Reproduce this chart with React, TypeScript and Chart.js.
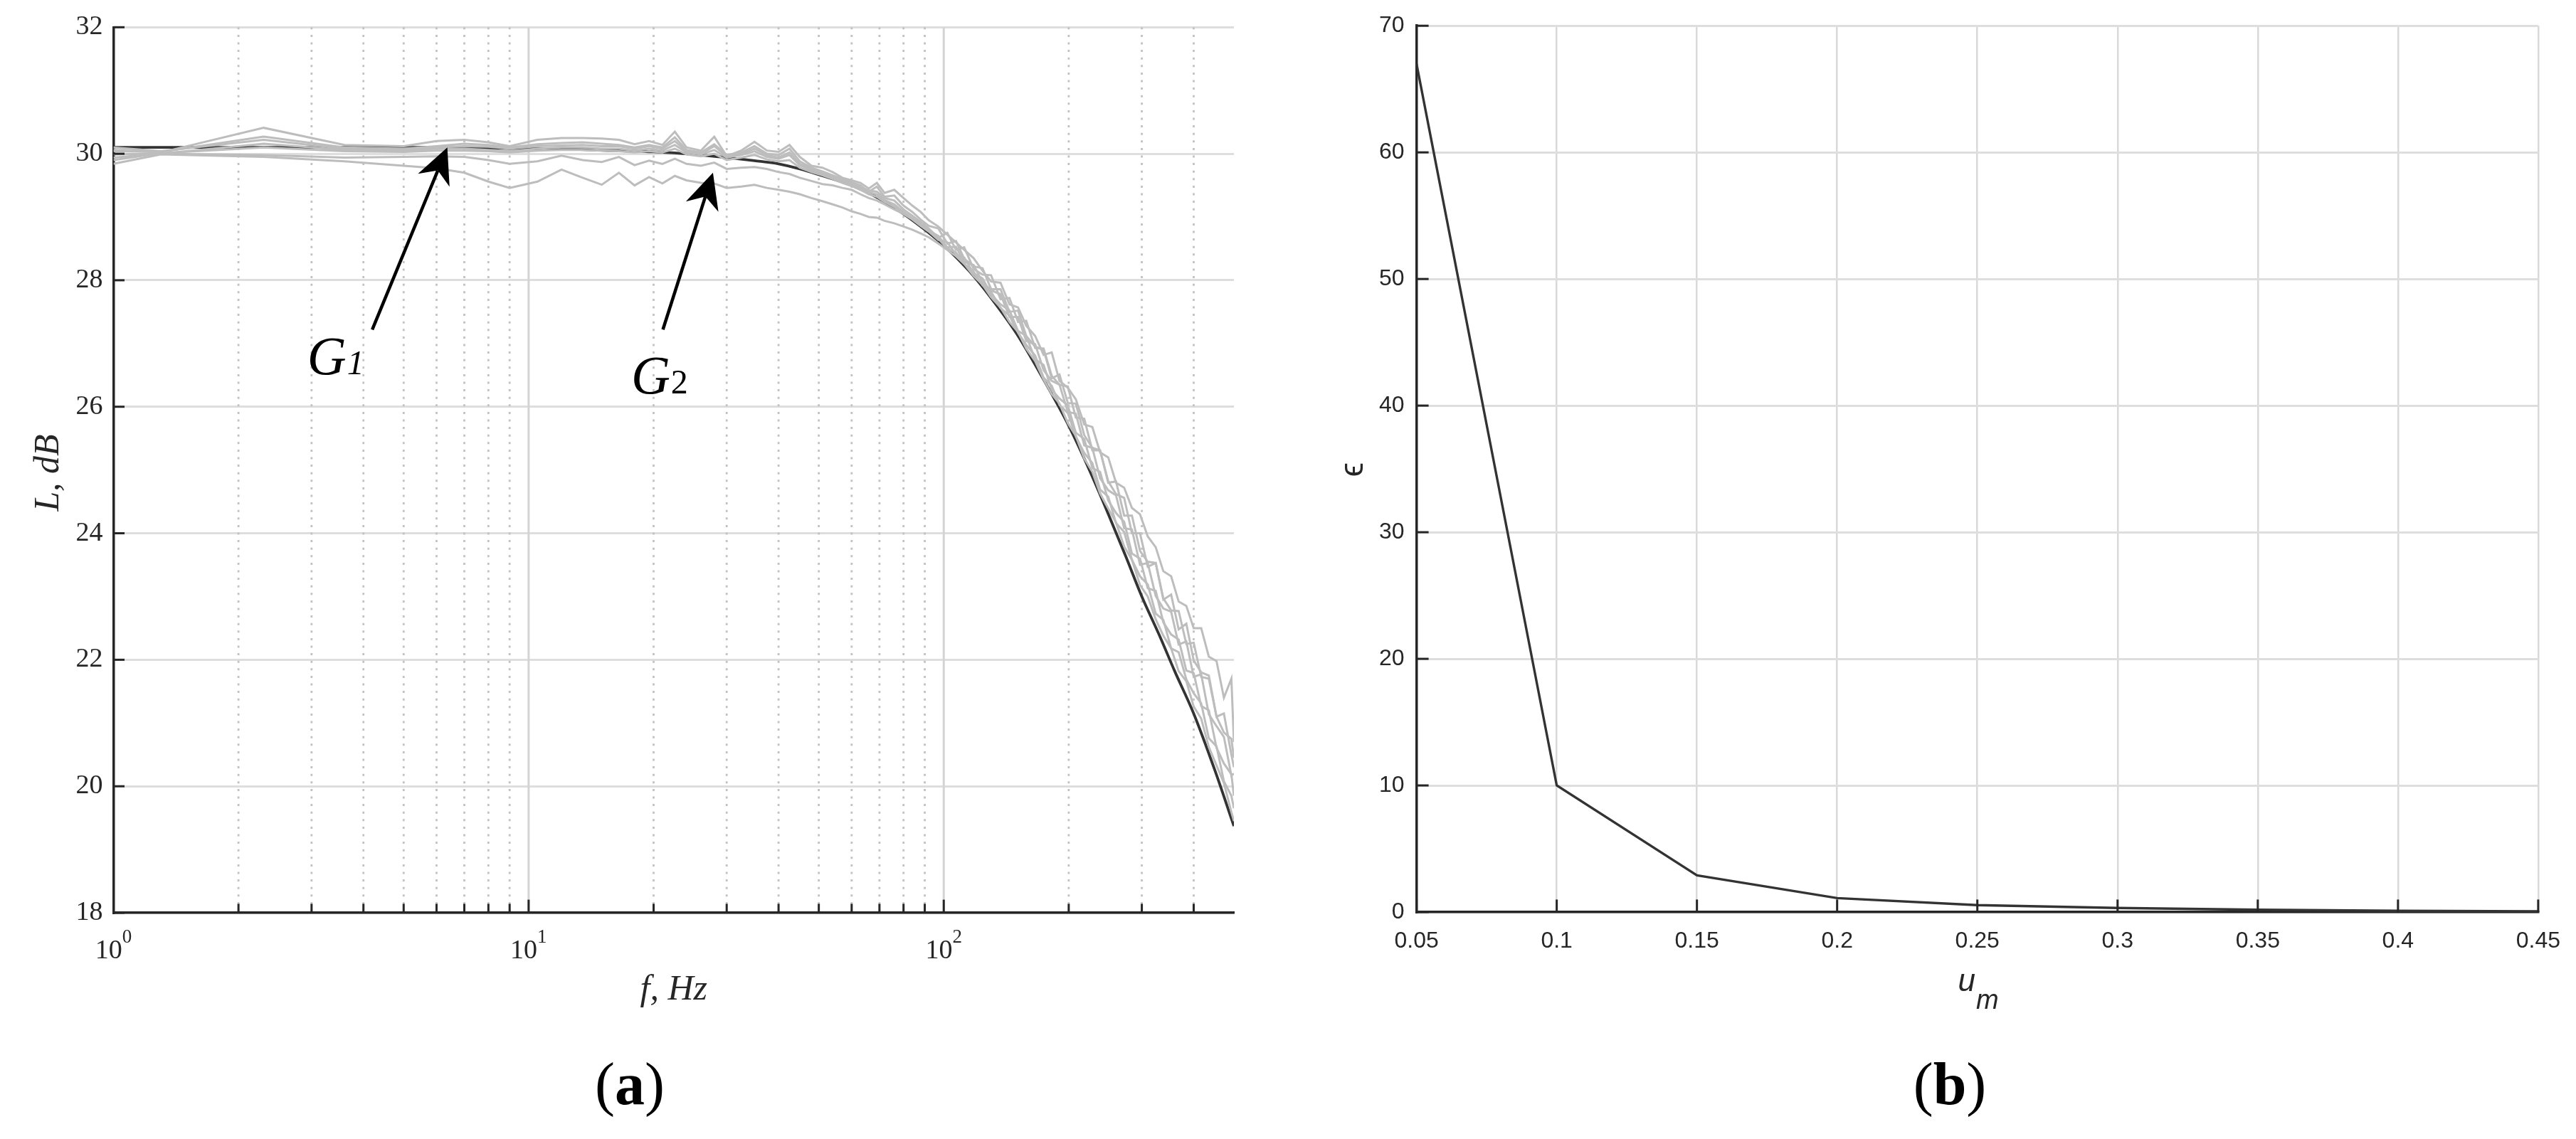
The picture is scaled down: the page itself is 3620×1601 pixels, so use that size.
import React, { useEffect, useRef } from 'react';
import { Chart, registerables } from 'chart.js';

Chart.register(...registerables);

// ---------------- Panel (a) data ----------------
const freqHz = [1, 1.3, 2.3, 3.6, 5, 6, 7, 8, 9, 10.5, 12, 13.5, 15, 16.5, 18, 19.5, 21, 22.5, 24, 26, 28, 30, 32.5, 35, 37.5, 40, 42.5, 45, 48, 51, 54, 57, 60, 63, 66, 69, 72, 76, 80, 84, 88, 92, 97, 102, 107, 112, 118, 124, 130, 137, 144, 151, 158, 166, 174, 182, 190, 199, 208, 218, 228, 238, 249, 260, 272, 284, 297, 310, 324, 338, 353, 368, 384, 400, 417, 435, 454, 473, 493, 500];

const measured1 = [30.06, 30.02, 30.41, 30.14, 30.12, 30.20, 30.22, 30.18, 30.12, 30.22, 30.25, 30.25, 30.24, 30.22, 30.15, 30.20, 30.14, 30.35, 30.10, 30.05, 30.27, 29.96, 30.05, 30.19, 30.05, 30.03, 30.14, 29.95, 29.81, 29.78, 29.71, 29.62, 29.58, 29.54, 29.45, 29.54, 29.38, 29.43, 29.30, 29.18, 29.08, 28.95, 28.85, 28.72, 28.60, 28.48, 28.35, 28.15, 27.98, 27.96, 27.62, 27.57, 27.28, 27.12, 26.82, 26.86, 26.41, 26.30, 26.12, 25.72, 25.68, 25.28, 25.20, 24.80, 24.72, 24.40, 24.30, 23.95, 23.78, 23.40, 23.32, 22.92, 22.85, 22.50, 22.50, 22.05, 21.98, 21.40, 21.70, 20.70];
const measured2 = [30.04, 30.03, 30.27, 30.10, 30.08, 30.12, 30.16, 30.14, 30.10, 30.15, 30.17, 30.18, 30.16, 30.14, 30.10, 30.14, 30.10, 30.26, 30.06, 30.02, 30.15, 29.98, 30.02, 30.12, 30.00, 29.98, 30.08, 29.88, 29.78, 29.72, 29.66, 29.60, 29.55, 29.50, 29.40, 29.48, 29.32, 29.34, 29.18, 29.08, 28.96, 28.86, 28.82, 28.58, 28.62, 28.34, 28.22, 28.19, 27.86, 27.86, 27.50, 27.52, 27.12, 26.95, 26.90, 26.45, 26.51, 26.06, 26.05, 25.55, 25.35, 25.31, 24.80, 24.82, 24.28, 24.28, 23.72, 23.55, 23.53, 22.95, 23.03, 22.48, 22.57, 21.99, 21.80, 21.75, 21.10, 21.15, 20.50, 20.30];
const measured3 = [30.10, 30.04, 30.22, 30.08, 30.06, 30.10, 30.12, 30.11, 30.08, 30.12, 30.13, 30.14, 30.12, 30.12, 30.08, 30.12, 30.08, 30.20, 30.04, 30.00, 30.12, 29.96, 30.00, 30.08, 29.98, 29.94, 30.02, 29.84, 29.76, 29.70, 29.64, 29.58, 29.52, 29.47, 29.42, 29.40, 29.30, 29.26, 29.12, 29.02, 28.92, 28.82, 28.67, 28.75, 28.48, 28.52, 28.18, 28.09, 28.08, 27.70, 27.72, 27.34, 27.36, 26.93, 26.92, 26.49, 26.35, 26.32, 25.83, 25.81, 25.31, 25.31, 24.82, 24.62, 24.56, 24.00, 24.00, 23.47, 23.53, 22.97, 22.78, 22.77, 22.25, 22.27, 21.73, 21.70, 21.10, 20.85, 20.75, 20.45];
const measured4 = [29.94, 30.00, 30.16, 30.06, 30.05, 30.08, 30.08, 30.06, 30.04, 30.08, 30.10, 30.10, 30.08, 30.08, 30.05, 30.08, 30.05, 30.14, 30.02, 29.99, 30.06, 29.94, 29.98, 30.04, 29.95, 29.92, 29.98, 29.82, 29.74, 29.69, 29.63, 29.57, 29.52, 29.46, 29.39, 29.36, 29.27, 29.20, 29.08, 28.98, 28.88, 28.79, 28.70, 28.52, 28.53, 28.29, 28.24, 27.97, 27.84, 27.78, 27.42, 27.42, 27.04, 26.99, 26.58, 26.41, 26.35, 25.92, 25.89, 25.39, 25.35, 24.87, 24.68, 24.60, 24.08, 24.06, 23.50, 23.53, 23.01, 22.81, 22.76, 22.24, 22.29, 21.73, 21.77, 21.14, 20.95, 20.78, 20.17, 20.20];
const measured5 = [29.90, 30.01, 30.10, 30.04, 30.03, 30.05, 30.05, 30.04, 30.02, 30.05, 30.06, 30.06, 30.05, 30.04, 30.02, 30.04, 30.02, 30.08, 29.99, 29.96, 30.00, 29.90, 29.94, 29.98, 29.91, 29.88, 29.90, 29.78, 29.71, 29.66, 29.60, 29.54, 29.49, 29.43, 29.36, 29.32, 29.24, 29.16, 29.05, 28.96, 28.86, 28.77, 28.64, 28.60, 28.41, 28.36, 28.11, 28.03, 27.78, 27.62, 27.52, 27.20, 27.12, 26.75, 26.66, 26.27, 26.13, 26.02, 25.59, 25.49, 25.03, 24.97, 24.52, 24.32, 24.18, 23.68, 23.60, 23.13, 23.09, 22.59, 22.40, 22.32, 21.83, 21.79, 21.27, 21.20, 20.61, 20.36, 20.19, 19.85];
const measured6 = [29.99, 30.00, 29.98, 29.94, 29.95, 29.96, 29.95, 29.90, 29.84, 29.88, 29.97, 29.90, 29.87, 29.95, 29.82, 29.89, 29.84, 29.92, 29.84, 29.81, 29.86, 29.76, 29.78, 29.79, 29.76, 29.71, 29.68, 29.62, 29.57, 29.52, 29.50, 29.46, 29.43, 29.36, 29.30, 29.26, 29.20, 29.12, 29.05, 28.97, 28.90, 28.80, 28.66, 28.50, 28.44, 28.26, 28.14, 27.92, 27.82, 27.56, 27.44, 27.17, 26.98, 26.81, 26.46, 26.33, 26.03, 25.90, 25.53, 25.27, 25.11, 24.69, 24.58, 24.16, 24.02, 23.58, 23.32, 23.19, 22.73, 22.63, 22.18, 22.12, 21.69, 21.47, 21.31, 20.76, 20.63, 20.08, 19.85, 19.65];
const measured7 = [29.84, 29.99, 29.95, 29.88, 29.81, 29.77, 29.70, 29.56, 29.46, 29.56, 29.75, 29.62, 29.51, 29.70, 29.50, 29.63, 29.53, 29.65, 29.58, 29.54, 29.53, 29.46, 29.48, 29.51, 29.46, 29.43, 29.40, 29.36, 29.30, 29.25, 29.20, 29.15, 29.09, 29.05, 29.00, 28.99, 28.94, 28.90, 28.85, 28.80, 28.74, 28.68, 28.58, 28.48, 28.38, 28.26, 28.07, 27.93, 27.73, 27.57, 27.34, 27.18, 26.92, 26.72, 26.43, 26.20, 26.05, 25.74, 25.54, 25.18, 24.97, 24.63, 24.39, 24.17, 23.79, 23.58, 23.18, 23.00, 22.64, 22.38, 22.18, 21.82, 21.66, 21.26, 21.07, 20.62, 20.33, 20.05, 19.59, 19.45];

const modelFreqHz = [1, 2, 4, 6, 8, 10, 13, 16, 20, 25, 30, 35, 40, 45, 50, 60, 70, 80, 90, 100, 115, 130, 150, 175, 200, 225, 250, 275, 300, 330, 360, 400, 450, 500];
const modelLevelDb = [30.10, 30.10, 30.10, 30.10, 30.09, 30.08, 30.07, 30.05, 30.03, 29.99, 29.94, 29.89, 29.84, 29.76, 29.67, 29.50, 29.29, 29.05, 28.80, 28.55, 28.15, 27.72, 27.15, 26.40, 25.70, 24.98, 24.28, 23.62, 23.00, 22.40, 21.82, 21.15, 20.25, 19.37];

const levelTicksA = [18, 20, 22, 24, 26, 28, 30, 32];
const decadeTicksA = [1, 10, 100];
const minorTicksA = [2, 3, 4, 5, 6, 7, 8, 9, 20, 30, 40, 50, 60, 70, 80, 90, 200, 300, 400];

// annotation anchors in data space (f [Hz], L [dB])
const annotationsA = [
  { name: 'G', index: '1', italicIndex: true, text: [2.93, 26.52], tail: [4.2, 27.22], tip: [6.37, 30.1] },
  { name: 'G', index: '2', italicIndex: false, text: [17.66, 26.21], tail: [21.06, 27.22], tip: [27.8, 29.7] },
];

// ---------------- Panel (b) data ----------------
const umValues = [0.05, 0.1, 0.15, 0.2, 0.25, 0.3, 0.35, 0.4, 0.45];
const epsValues = [67.0, 10.0, 2.9, 1.1, 0.55, 0.32, 0.18, 0.1, 0.06];
const umTickLabels = ['0.05', '0.1', '0.15', '0.2', '0.25', '0.3', '0.35', '0.4', '0.45'];
const epsTicks = [0, 10, 20, 30, 40, 50, 60, 70];

const SERIF = '"Liberation Serif", "Times New Roman", Times, serif';
const SANS = '"Liberation Sans", Arial, Helvetica, "DejaVu Sans", sans-serif';
const INK = '#262626';
const CANVAS_W = 1810;
const CANVAS_H = 1601;

function line(ctx: CanvasRenderingContext2D, x1: number, y1: number, x2: number, y2: number) {
  ctx.beginPath();
  ctx.moveTo(x1, y1);
  ctx.lineTo(x2, y2);
  ctx.stroke();
}

function drawArrow(ctx: CanvasRenderingContext2D, tx: number, ty: number, hx: number, hy: number) {
  const dx = hx - tx;
  const dy = hy - ty;
  const len = Math.hypot(dx, dy);
  const ux = dx / len;
  const uy = dy / len;
  const px = -uy;
  const py = ux;
  const headLen = 50;
  const halfW = 24;
  const notch = 35;
  const bx = hx - ux * headLen;
  const by = hy - uy * headLen;
  const nx = hx - ux * notch;
  const ny = hy - uy * notch;
  ctx.strokeStyle = '#000';
  ctx.lineWidth = 4.5;
  line(ctx, tx, ty, nx, ny);
  ctx.fillStyle = '#000';
  ctx.beginPath();
  ctx.moveTo(hx, hy);
  ctx.lineTo(bx + px * halfW, by + py * halfW);
  ctx.lineTo(nx, ny);
  ctx.lineTo(bx - px * halfW, by - py * halfW);
  ctx.closePath();
  ctx.fill();
}

function drawPanelLetter(ctx: CanvasRenderingContext2D, letter: string, cx: number, baseline: number) {
  const size = 84;
  ctx.fillStyle = '#000';
  ctx.textBaseline = 'alphabetic';
  ctx.textAlign = 'left';
  ctx.font = `${size}px ${SERIF}`;
  const wp = ctx.measureText('(').width;
  const wq = ctx.measureText(')').width;
  ctx.font = `bold ${size}px ${SERIF}`;
  const wl = ctx.measureText(letter).width;
  let x = cx - (wp + wl + wq) / 2;
  ctx.font = `${size}px ${SERIF}`;
  ctx.fillText('(', x, baseline);
  x += wp;
  ctx.font = `bold ${size}px ${SERIF}`;
  ctx.fillText(letter, x, baseline);
  x += wl;
  ctx.font = `${size}px ${SERIF}`;
  ctx.fillText(')', x, baseline);
}

const panelAPlugin = {
  id: 'panelA',
  beforeDatasetsDraw(chart: any) {
    const { ctx, chartArea: ca, scales } = chart;
    const x = scales.x;
    ctx.save();
    ctx.lineWidth = 2.8;
    ctx.strokeStyle = '#c2c2c2';
    ctx.setLineDash([3, 7.6]);
    for (const v of minorTicksA) {
      const px = x.getPixelForValue(v);
      line(ctx, px, ca.top, px, ca.bottom - 2);
    }
    ctx.setLineDash([]);
    ctx.strokeStyle = '#d4d4d4';
    ctx.lineWidth = 3;
    for (const v of decadeTicksA.slice(1)) {
      const px = x.getPixelForValue(v);
      line(ctx, px, ca.top, px, ca.bottom - 2);
    }
    ctx.restore();
  },
  afterDraw(chart: any) {
    const { ctx, chartArea: ca, scales } = chart;
    const x = scales.x;
    const y = scales.y;
    ctx.save();
    // inward tick marks
    ctx.strokeStyle = INK;
    ctx.lineWidth = 3;
    for (const v of levelTicksA) {
      const py = y.getPixelForValue(v);
      line(ctx, ca.left, py, ca.left + 15.5, py);
    }
    for (const v of minorTicksA) {
      const px = x.getPixelForValue(v);
      line(ctx, px, ca.bottom, px, ca.bottom - 12.6);
    }
    for (const v of decadeTicksA.slice(1)) {
      const px = x.getPixelForValue(v);
      line(ctx, px, ca.bottom, px, ca.bottom - 18.4);
    }
    // decade tick labels 10^n
    ctx.fillStyle = INK;
    ctx.textAlign = 'left';
    ctx.textBaseline = 'alphabetic';
    for (const v of decadeTicksA) {
      const px = x.getPixelForValue(v);
      const exp = String(Math.round(Math.log10(v)));
      ctx.font = `38px ${SERIF}`;
      const wb = ctx.measureText('10').width;
      ctx.font = `27px ${SERIF}`;
      const we = ctx.measureText(exp).width;
      const start = px - (wb + we) / 2;
      ctx.font = `38px ${SERIF}`;
      ctx.fillText('10', start, ca.bottom + 64);
      ctx.font = `27px ${SERIF}`;
      ctx.fillText(exp, start + wb, ca.bottom + 42);
    }
    // axis titles
    ctx.font = `italic 50px ${SERIF}`;
    ctx.textAlign = 'center';
    ctx.fillText('f, Hz', (ca.left + ca.right) / 2, ca.bottom + 122);
    ctx.save();
    ctx.translate(82, (ca.top + ca.bottom) / 2 + 4);
    ctx.rotate(-Math.PI / 2);
    ctx.fillText('L, dB', 0, 0);
    ctx.restore();
    // annotations
    for (const a of annotationsA) {
      drawArrow(ctx, x.getPixelForValue(a.tail[0]), y.getPixelForValue(a.tail[1]), x.getPixelForValue(a.tip[0]), y.getPixelForValue(a.tip[1]));
      const tx = x.getPixelForValue(a.text[0]);
      const ty = y.getPixelForValue(a.text[1]);
      ctx.fillStyle = '#000';
      ctx.textAlign = 'left';
      ctx.font = `italic 76px ${SERIF}`;
      ctx.fillText(a.name, tx, ty);
      const wg = ctx.measureText(a.name).width;
      ctx.font = `${a.italicIndex ? 'italic ' : ''}48px ${SERIF}`;
      ctx.fillText(a.index, tx + wg + 1, ty);
    }
    drawPanelLetter(ctx, 'a', 885, 1552);
    ctx.restore();
  },
};

const panelBPlugin = {
  id: 'panelB',
  afterDraw(chart: any) {
    const { ctx, chartArea: ca, scales } = chart;
    const x = scales.x;
    const y = scales.y;
    ctx.save();
    ctx.strokeStyle = INK;
    ctx.lineWidth = 3;
    for (const v of epsTicks) {
      const py = y.getPixelForValue(v);
      line(ctx, ca.left, py, ca.left + 17, py);
    }
    for (const v of umValues) {
      const px = x.getPixelForValue(v);
      line(ctx, px, ca.bottom, px, ca.bottom - 17.6);
    }
    const cx = (ca.left + ca.right) / 2;
    ctx.fillStyle = INK;
    ctx.textBaseline = 'alphabetic';
    ctx.textAlign = 'center';
    ctx.font = `italic 44px ${SANS}`;
    ctx.fillText('u', cx - 15, ca.bottom + 111);
    ctx.font = `italic 38px ${SANS}`;
    ctx.fillText('m', cx + 14, ca.bottom + 136);
    ctx.save();
    ctx.translate(92, (ca.top + ca.bottom) / 2 + 1);
    ctx.rotate(-Math.PI / 2);
    ctx.textBaseline = 'middle';
    ctx.font = `46px ${SANS}`;
    ctx.fillText('\u03F5', 0, 0);
    ctx.restore();
    drawPanelLetter(ctx, 'b', 930, 1552);
    ctx.restore();
  },
};

function toPoints(xs: number[], ys: number[]) {
  return xs.map((v, i) => ({ x: v, y: ys[i] }));
}

export default function App() {
  const leftRef = useRef<HTMLCanvasElement>(null);
  const rightRef = useRef<HTMLCanvasElement>(null);

  useEffect(() => {
    document.body.style.margin = '0';
    const measured = [measured1, measured2, measured3, measured4, measured5, measured6, measured7];
    const chartA = new Chart(leftRef.current as HTMLCanvasElement, {
      type: 'scatter',
      data: {
        datasets: [
          ...measured.map((m) => ({
            data: toPoints(freqHz, m),
            showLine: true,
            borderColor: '#bdbdbd',
            borderWidth: 3,
            pointRadius: 0,
            tension: 0,
          })),
          {
            data: toPoints(modelFreqHz, modelLevelDb),
            showLine: true,
            borderColor: '#333333',
            borderWidth: 3.8,
            pointRadius: 0,
            cubicInterpolationMode: 'monotone',
          },
        ],
      } as any,
      options: {
        animation: false,
        responsive: false,
        devicePixelRatio: 1,
        events: [],
        layout: { padding: { left: 0, top: 38.3, right: CANVAS_W - 1734, bottom: 0 } },
        plugins: { legend: { display: false }, tooltip: { enabled: false } },
        scales: {
          x: {
            type: 'logarithmic',
            min: 1,
            max: 500,
            grid: { display: false },
            ticks: { display: false },
            border: { display: true, color: INK, width: 3.5 },
            afterFit: (s: any) => {
              s.height = CANVAS_H - 1283;
            },
          },
          y: {
            min: 18,
            max: 32,
            afterBuildTicks: (s: any) => {
              s.ticks = levelTicksA.map((v) => ({ value: v }));
            },
            ticks: { font: { family: SERIF, size: 38 }, color: INK, padding: 15 },
            grid: { color: '#dedede', lineWidth: 3, drawTicks: false },
            border: { display: true, color: INK, width: 3.5 },
            afterFit: (s: any) => {
              s.width = 159.5;
            },
          },
        },
      } as any,
      plugins: [panelAPlugin],
    });

    const chartB = new Chart(rightRef.current as HTMLCanvasElement, {
      type: 'scatter',
      data: {
        datasets: [
          {
            data: toPoints(umValues, epsValues),
            showLine: true,
            borderColor: '#333333',
            borderWidth: 3.4,
            pointRadius: 0,
            tension: 0,
          },
        ],
      } as any,
      options: {
        animation: false,
        responsive: false,
        devicePixelRatio: 1,
        events: [],
        layout: { padding: { left: 0, top: 33.7, right: CANVAS_W - 1760, bottom: 0 } },
        plugins: { legend: { display: false }, tooltip: { enabled: false } },
        scales: {
          x: {
            type: 'linear',
            min: 0.05,
            max: 0.45,
            afterBuildTicks: (s: any) => {
              s.ticks = umValues.map((v) => ({ value: v }));
            },
            ticks: {
              autoSkip: false,
              maxRotation: 0,
              font: { family: SANS, size: 32 },
              color: INK,
              padding: 22,
              callback: (_v: any, i: number) => umTickLabels[i],
            },
            grid: { color: '#d9d9d9', lineWidth: 2.5, drawTicks: false },
            border: { display: true, color: INK, width: 3.5 },
            afterFit: (s: any) => {
              s.height = CANVAS_H - 1282;
            },
          },
          y: {
            min: 0,
            max: 70,
            afterBuildTicks: (s: any) => {
              s.ticks = epsTicks.map((v) => ({ value: v }));
            },
            ticks: { font: { family: SANS, size: 32 }, color: INK, padding: 17 },
            grid: { color: '#dedede', lineWidth: 3, drawTicks: false },
            border: { display: true, color: INK, width: 3.5 },
            afterFit: (s: any) => {
              s.width = 1990.6 - 1810;
            },
          },
        },
      } as any,
      plugins: [panelBPlugin],
    });

    return () => {
      chartA.destroy();
      chartB.destroy();
    };
  }, []);

  return (
    <div style={{ position: 'absolute', left: 0, top: 0, width: 3620, height: 1601, background: '#ffffff', overflow: 'hidden' }}>
      <canvas ref={leftRef} width={CANVAS_W} height={CANVAS_H} style={{ position: 'absolute', left: 0, top: 0, width: CANVAS_W, height: CANVAS_H }} />
      <canvas ref={rightRef} width={CANVAS_W} height={CANVAS_H} style={{ position: 'absolute', left: CANVAS_W, top: 0, width: CANVAS_W, height: CANVAS_H }} />
    </div>
  );
}
